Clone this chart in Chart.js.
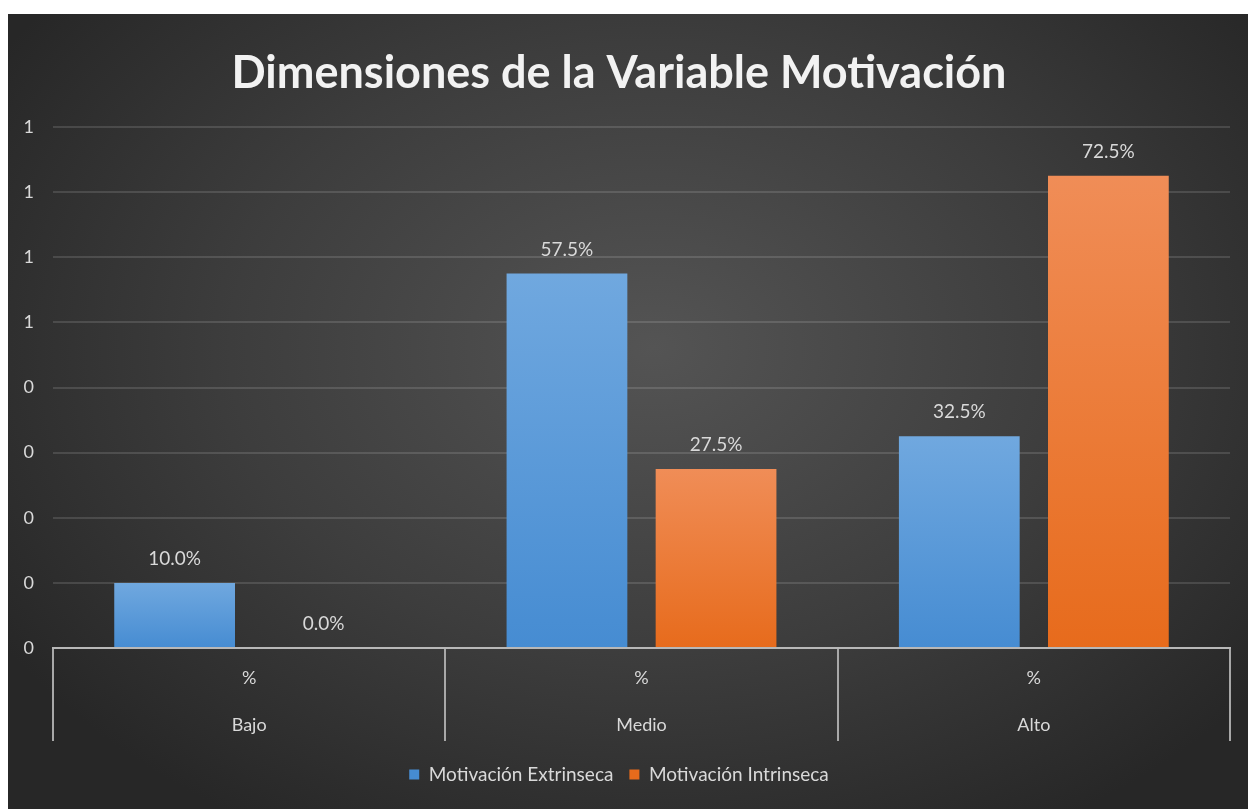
<!DOCTYPE html>
<html>
<head>
<meta charset="utf-8">
<script src="https://cdn.jsdelivr.net/npm/chart.js@4/dist/chart.umd.min.js"></script>
<style>
  html, body { margin: 0; padding: 0; background: #fff; }
  #card {
    position: absolute; left: 8px; top: 14px; width: 1240px; height: 795px;
    background: radial-gradient(ellipse 62% 70% at 52% 42%, #545454 0%, #3d3d3d 55%, #272727 100%);
  }
</style>
</head>
<body>
<div id="card"><canvas id="chart" width="1240" height="795"></canvas></div>
<script>
const levels = ["Bajo", "Medio", "Alto"];
const unitRow = ["%", "%", "%"];
const extrinseca = [0.10, 0.575, 0.325];
const intrinseca = [0.0, 0.275, 0.725];
const yTickLabels = ["0", "0", "0", "0", "0", "1", "1", "1", "1"];

const FONT = "Lato, 'Open Sans', sans-serif";
const TEXT = "#d9d9d9";

// vertical gradient per bar, from its top to the zero line
function fillFor(top, bottom) {
  return (c) => {
    const chart = c.chart;
    const y = chart.scales && chart.scales.y;
    if (!chart.chartArea || !y || c.raw == null) return bottom;
    const y0 = y.getPixelForValue(c.raw);
    const y1 = y.getPixelForValue(0);
    if (y1 - y0 < 1) return bottom;
    const g = chart.ctx.createLinearGradient(0, y0, 0, y1);
    g.addColorStop(0, top);
    g.addColorStop(1, bottom);
    return g;
  };
}

// value labels above the bars
const valueLabels = {
  id: "valueLabels",
  afterDatasetsDraw(chart) {
    const ctx = chart.ctx;
    ctx.save();
    ctx.font = "19px " + FONT;
    ctx.fillStyle = TEXT;
    ctx.textAlign = "center";
    ctx.textBaseline = "middle";
    chart.data.datasets.forEach((ds, di) => {
      chart.getDatasetMeta(di).data.forEach((bar, i) => {
        ctx.fillText((ds.data[i] * 100).toFixed(1) + "%", bar.x, bar.y - 24);
      });
    });
    ctx.restore();
  }
};

new Chart(document.getElementById("chart"), {
  type: "bar",
  data: {
    labels: levels.map((l, i) => [unitRow[i], l]),
    datasets: [
      {
        label: "Motivación Extrinseca",
        data: extrinseca,
        backgroundColor: fillFor("#70a8df", "#468cd2"),
        categoryPercentage: 0.76,
        barPercentage: 0.81,
      },
      {
        label: "Motivación Intrinseca",
        data: intrinseca,
        backgroundColor: fillFor("#f08d57", "#e76b1c"),
        categoryPercentage: 0.76,
        barPercentage: 0.81,
      },
    ],
  },
  options: {
    responsive: false,
    animation: false,
    layout: { padding: { left: 0, right: 18, top: 0, bottom: 15 } },
    scales: {
      x: {
        afterFit: (s) => { s.height = 101; },
        border: { display: true, color: "#b8b8b8", width: 2 },
        grid: {
          display: true, offset: true, drawOnChartArea: false, drawTicks: true,
          tickLength: 93, color: "#a8a8a8", lineWidth: 2,
        },
        ticks: {
          padding: -86, color: TEXT, maxRotation: 0,
          font: { family: FONT, size: 18, lineHeight: "47px" },
        },
      },
      y: {
        min: 0, max: 0.8,
        afterFit: (s) => { s.width = 45; },
        border: { display: false },
        grid: { color: "rgba(255,255,255,0.13)", lineWidth: 2, drawTicks: false },
        ticks: {
          stepSize: 0.1, padding: 19, color: TEXT,
          font: { family: FONT, size: 18 },
          callback: (v, i) => yTickLabels[i],
        },
      },
    },
    plugins: {
      title: {
        display: true,
        text: "Dimensiones de la Variable Motivación",
        color: "#f2f2f2",
        font: { family: FONT, size: 45, weight: "bold", lineHeight: 1.2 },
        padding: { top: 32, bottom: 27 },
      },
      legend: {
        position: "bottom",
        labels: {
          color: TEXT, boxWidth: 10, boxHeight: 10, padding: 16,
          font: { family: FONT, size: 19 },
        },
      },
      tooltip: { enabled: false },
    },
  },
  plugins: [valueLabels],
});
</script>
</body>
</html>
